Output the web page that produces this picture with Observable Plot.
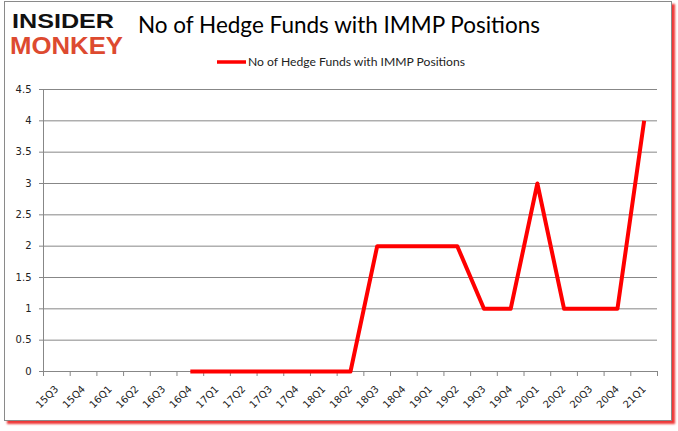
<!DOCTYPE html>
<html>
<head>
<meta charset="utf-8">
<script src="https://cdn.jsdelivr.net/npm/d3@7"></script>
<script src="https://cdn.jsdelivr.net/npm/@observablehq/plot@0.6"></script>
<style>
  html, body { margin: 0; padding: 0; background: #fff; }
  #wrap { position: relative; width: 678px; height: 431px; overflow: hidden; background: #fff; }
  #frame { position: absolute; left: 4px; top: 1px; width: 666px; height: 418px; border: 1px solid #8a8a8a; box-shadow: 3px 3px 2px rgba(235,20,20,0.85); background: #fff; }
  #chart { position: absolute; left: 0; top: 0; }
  #overlay { position: absolute; left: 0; top: 0; }
</style>
</head>
<body>
<div id="wrap">
  <div id="frame"></div>
  <div id="chart"></div>
  <svg id="overlay" width="678" height="80"></svg>
</div>
<script>
const title = "No of Hedge Funds with IMMP Positions";
const seriesName = "No of Hedge Funds with IMMP Positions";
const logoTop = "INSIDER";
const logoBottom = "MONKEY";
const quarters = ["15Q3","15Q4","16Q1","16Q2","16Q3","16Q4","17Q1","17Q2","17Q3","17Q4","18Q1","18Q2","18Q3","18Q4","19Q1","19Q2","19Q3","19Q4","20Q1","20Q2","20Q3","20Q4","21Q1"];
const dataQuarters = ["16Q4","17Q1","17Q2","17Q3","17Q4","18Q1","18Q2","18Q3","18Q4","19Q1","19Q2","19Q3","19Q4","20Q1","20Q2","20Q3","20Q4","21Q1"];
const funds = [0,0,0,0,0,0,0,2,2,2,2,1,1,3,1,1,1,4];
const yTicks = [0,0.5,1,1.5,2,2.5,3,3.5,4,4.5];

const data = dataQuarters.map((q, i) => ({quarter: q, value: funds[i]}));

const W = 678, H = 431, mL = 43, mR = 21, mT = 89, mB = 60;
const step = (W - mL - mR) / quarters.length;
const grid = "#878787";

const chart = Plot.plot({
  width: W,
  height: H,
  marginLeft: mL,
  marginRight: mR,
  marginTop: mT,
  marginBottom: mB,
  style: {background: "transparent", fontFamily: "DejaVu Sans", fontSize: "10px", color: "#222"},
  x: {type: "point", domain: quarters, padding: 0.5, align: 0.5, round: false},
  y: {domain: [0, 4.5]},
  marks: [
    Plot.ruleY(yTicks, {stroke: grid, strokeWidth: 1}),
    Plot.ruleX([quarters[0]], {dx: -step / 2, stroke: grid}),
    Plot.ruleX(quarters, {x: d => d, y1: 0, y2: -0.08, dx: -step / 2, stroke: grid}),
    Plot.ruleX([quarters[quarters.length - 1]], {y1: 0, y2: -0.08, dx: step / 2, stroke: grid}),
    Plot.axisY({ticks: yTicks, tickSize: 4, tickPadding: 8, tickFormat: d => String(d), stroke: grid, fill: "#222", label: null}),
    Plot.axisX({tickSize: 0, tickRotate: -45, tickPadding: 16, fill: "#222", label: null}),
    Plot.line(data, {x: "quarter", y: "value", stroke: "#ff0000", strokeWidth: 4, strokeLinejoin: "round", strokeLinecap: "butt"})
  ]
});
document.getElementById("chart").appendChild(chart);

// Title, logo and legend overlay
const ov = d3.select("#overlay");
ov.append("text").attr("x", 12).attr("y", 28).attr("textLength", 102).attr("lengthAdjust", "spacingAndGlyphs")
  .attr("font-family", "Liberation Sans").attr("font-weight", "bold").attr("font-size", 21).attr("fill", "#111").text(logoTop);
ov.append("text").attr("x", 10).attr("y", 53.5).attr("textLength", 113).attr("lengthAdjust", "spacingAndGlyphs")
  .attr("font-family", "Liberation Sans").attr("font-weight", "bold").attr("font-size", 23).attr("fill", "#dd4a30").text(logoBottom);
ov.append("text").attr("x", 138).attr("y", 33).attr("textLength", 402).attr("lengthAdjust", "spacingAndGlyphs")
  .attr("font-family", "Lato").attr("font-size", 23).attr("fill", "#000").text(title);
ov.append("line").attr("x1", 217).attr("x2", 246).attr("y1", 62).attr("y2", 62)
  .attr("stroke", "#ff0000").attr("stroke-width", 3.5);
ov.append("text").attr("x", 248).attr("y", 66).attr("textLength", 217).attr("lengthAdjust", "spacingAndGlyphs")
  .attr("font-family", "Lato").attr("font-size", 11.5).attr("fill", "#222").text(seriesName);
</script>
</body>
</html>
